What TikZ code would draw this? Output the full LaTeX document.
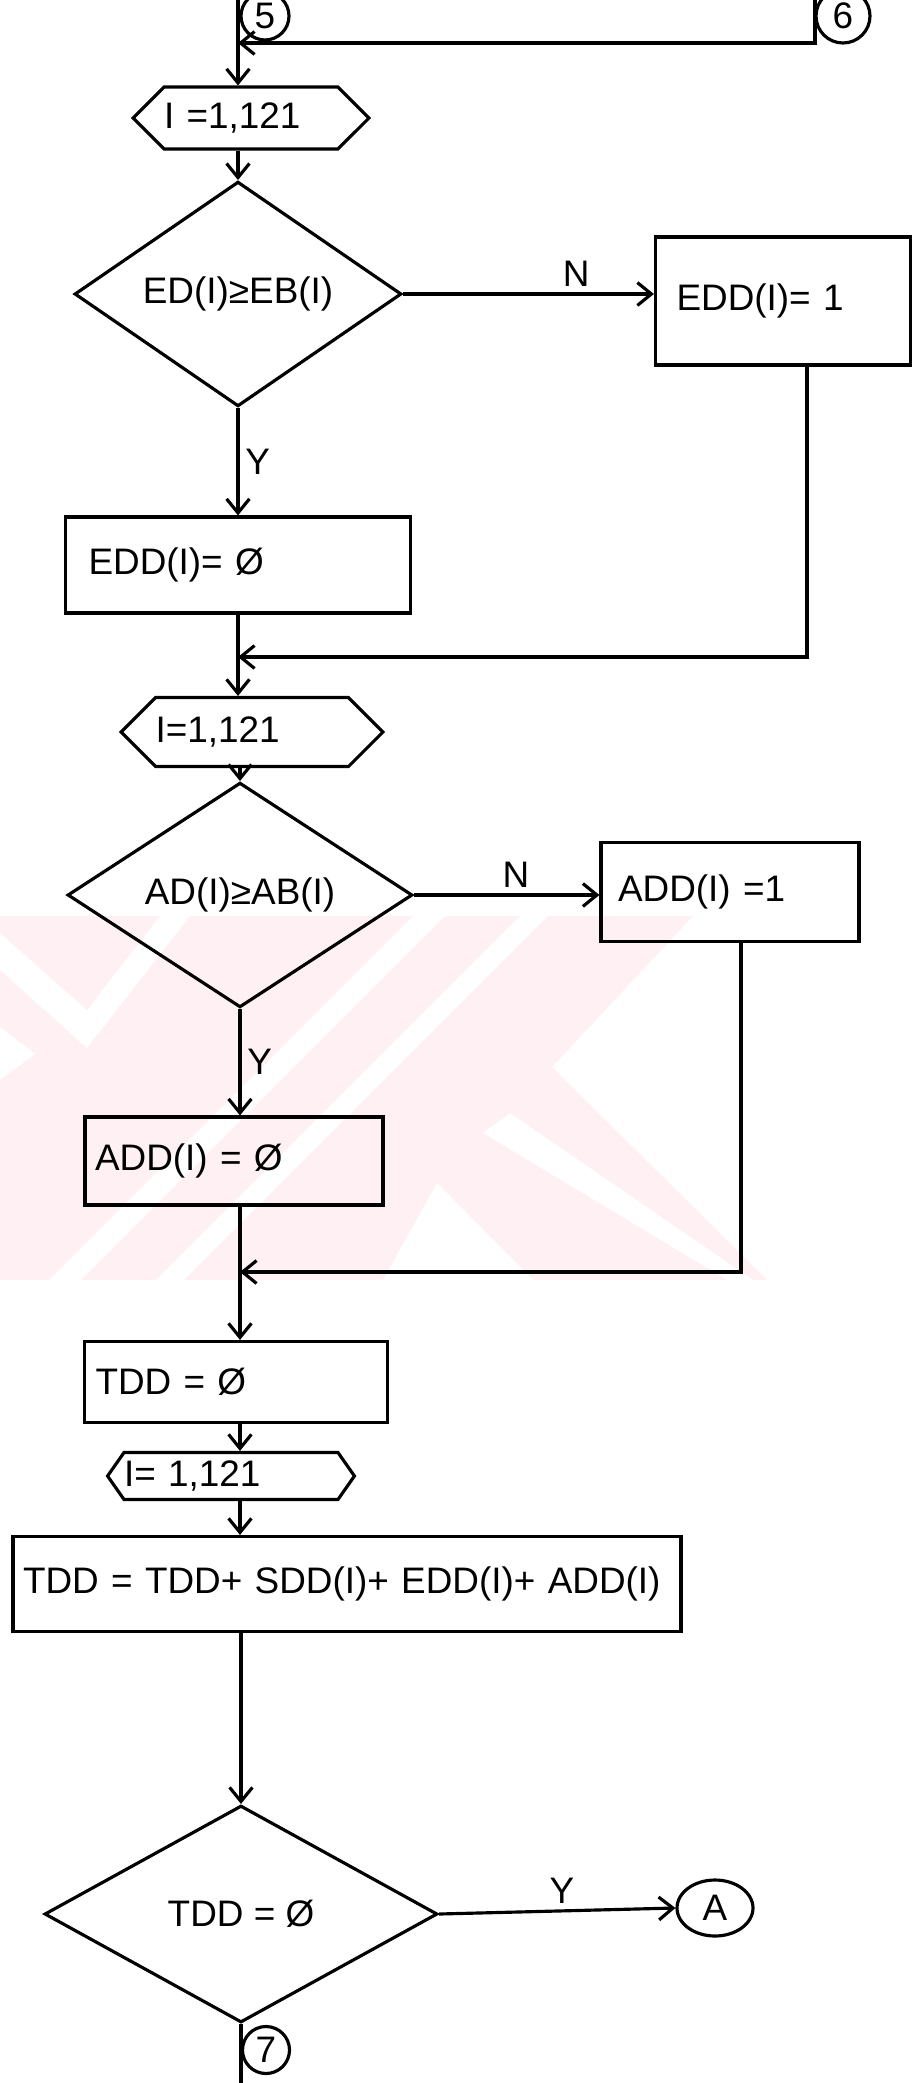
\documentclass[tikz,border=0pt]{standalone}
\usepackage{fontspec}
\setmainfont{Liberation Sans}
\usetikzlibrary{shapes.geometric, shapes.symbols, arrows.meta}

\definecolor{stamp}{RGB}{254,240,243}

\begin{document}
\begin{tikzpicture}[
    x=0.02cm, y=-0.02cm,
    font=\fontsize{21}{25}\selectfont,
    box/.style={rectangle, draw, line width=1.8pt, inner ysep=0pt, align=left},
    loopbox/.style={signal, signal to=west and east, draw, line width=1.8pt,
                    inner sep=0pt, align=left},
    test/.style={diamond, draw, line width=1.8pt, inner sep=0pt},
    conn/.style={circle, draw, line width=1.8pt, inner sep=0pt},
    arr/.style={-{Straight Barb[length=8pt, width=13pt, line width=1.8pt]}, line width=1.8pt},
    wire/.style={line width=1.8pt},
]
    \useasboundingbox (0,0) rectangle (915,2083);
    \clip (0,0) rectangle (915,2083);

    % faint stamp behind the second loop
    \begin{scope}
        \clip (0,916) rectangle (770,1280);
        \fill[stamp] (0,916) -- (693,916) -- (552,1067) -- (767,1280) -- (0,1280) -- cycle;
        \fill[white] (0,933) -- (87,1010) -- (160,916) -- (190,916) -- (87,1048) -- (0,970) -- cycle;
        \fill[white] (0,1027) -- (35,1054) -- (0,1080) -- cycle;
        \fill[white] (413,916) -- (445,916) -- (81,1280) -- (49,1280) -- cycle;
        \fill[white] (520,916) -- (548,916) -- (184,1280) -- (156,1280) -- cycle;
        \fill[white] (483,1133) -- (510,1113) -- (753,1280) -- (727,1280) -- cycle;
        \fill[white] (437,1183) -- (533,1280) -- (383,1280) -- cycle;
    \end{scope}

    % first loop: ED test
    \node[conn, minimum size=0.96cm] (c5) at (265,16) {5};
    \node[conn, minimum size=1.08cm] (c6) at (843,16) {6};
    \coordinate (in5) at (238,-40);
    \coordinate (in6) at (815,-40);
    \coordinate (j6)  at (815,43);
    \node[loopbox, text width=3.48cm, minimum height=1.24cm] (loop1) at (251,118) {I =1,121};
    \node[test, minimum width=6.54cm, minimum height=3.66cm] (dec1) at (238,294) {ED(I)≥EB(I)};
    \node[box, text width=4.26cm, inner xsep=0.42cm, minimum height=2.56cm] (set1) at (783,301) {EDD(I)= 1};
    \node[box, text width=5.98cm, inner xsep=0.46cm, minimum height=1.92cm] (clr1) at (238,565) {EDD(I)= Ø};
    \coordinate (r1) at (807,657);

    \draw[arr] (in5) -- (in5 |- loop1.north);
    \draw[arr] (in6) -- (j6) -- (j6 -| in5);
    \draw[arr] (loop1.south -| dec1.north) -- (dec1.north);
    \draw[arr] (dec1.east) -- node[above, pos=0.69]{N} (set1.west |- dec1.east);
    \draw[arr] (dec1.south) -- node[right]{Y} (dec1.south |- clr1.north);
    \draw[arr] (set1.south -| r1) -- (r1) -- (r1 -| dec1.south);

    % second loop: AD test
    \node[loopbox, text width=3.86cm, minimum height=1.38cm] (loop2) at (252,732) {I=1,121};
    \node[test, minimum width=6.9cm, minimum height=3.3cm] (dec2) at (240,895) {AD(I)≥AB(I)};
    \node[box, text width=4.48cm, inner xsep=0.34cm, minimum height=1.98cm] (set2) at (730,892) {ADD(I) =1};
    \node[box, text width=5.56cm, inner xsep=0.2cm, minimum height=1.76cm] (clr2) at (234,1161) {ADD(I) = Ø};
    \coordinate (r2) at (741,1272);

    \draw[arr] (clr1.south -| dec1.south) -- (loop2.north -| dec1.south);
    \draw[arr] (loop2.south -| dec2.north) -- (dec2.north);
    \draw[arr] (dec2.east) -- node[above, pos=0.55]{N} (set2.west |- dec2.east);
    \draw[arr] (dec2.south) -- node[right]{Y} (dec2.south |- clr2.north);
    \draw[arr] (set2.south -| r2) -- (r2) -- (r2 -| dec2.south);

    % total
    \node[box, text width=5.62cm, inner xsep=0.22cm, minimum height=1.62cm] (init) at (236,1382) {TDD = Ø};
    \node[loopbox, text width=4.28cm, minimum height=0.94cm, signal pointer angle=110] (loop3) at (231,1476) {I= 1,121};
    \node[box, text width=12.96cm, inner xsep=0.2cm, minimum height=1.9cm] (sum) at (347,1584) {TDD = TDD+ SDD(I)+ EDD(I)+ ADD(I)};
    \node[test, minimum width=7.86cm, minimum height=4.34cm] (dec3) at (241,1914) {TDD = Ø};
    \node[ellipse, draw, line width=1.8pt, minimum width=1.52cm, minimum height=1.12cm] (cA) at (715,1908) {A};
    \node[conn, minimum size=0.94cm] (c7) at (266,2050) {7};
    \coordinate (out7) at (241,2130);

    \draw[arr] (clr2.south -| dec2.south) -- (init.north -| dec2.south);
    \draw[arr] (init.south -| dec2.south) -- (loop3.north -| dec2.south);
    \draw[arr] (loop3.south -| dec2.south) -- (sum.north -| dec2.south);
    \draw[arr] (sum.south -| dec3.north) -- (dec3.north);
    \draw[arr] (dec3.east) -- node[above, pos=0.52]{Y} (cA.west);
    \draw[wire] (dec3.south) -- (out7);
\end{tikzpicture}
\end{document}
